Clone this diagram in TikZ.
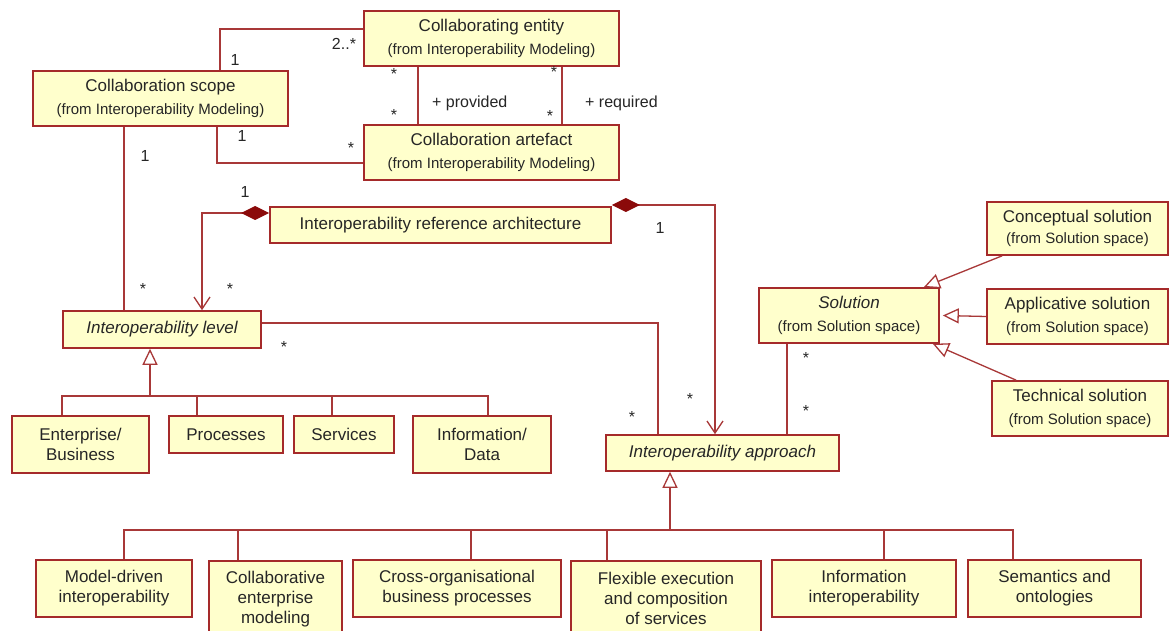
\documentclass[tikz,border=0pt]{standalone}
\usepackage{fontspec}
\setmainfont{Liberation Sans}
\usetikzlibrary{arrows.meta}
\definecolor{boxc}{HTML}{A52A2A}
\definecolor{boxfill}{HTML}{FFFFCC}
\definecolor{linec}{HTML}{A83838}
\definecolor{diamc}{HTML}{8B0A0A}
\definecolor{txt}{HTML}{262626}
\newcommand\mainf{\fontsize{17}{20}\selectfont}
\newcommand\subf{\fontsize{15}{18}\selectfont}
\newcommand\lblf{\fontsize{16}{18}\selectfont}
\begin{document}
\begin{tikzpicture}[x=1pt,y=-1pt,
 box/.style={draw=boxc, fill=boxfill, line width=1.6pt, inner sep=2pt, align=center, text=txt, font=\mainf},
 conn/.style={draw=linec, line width=1.3pt},
 gen/.style={conn, -{Triangle[open,length=16pt,width=15pt]}},
 comp/.style={conn, {Diamond[length=28pt,width=14pt,color=diamc]}-{Straight Barb[length=12pt,width=16pt]}},
 lbl/.style={text=txt, font=\lblf, inner sep=0pt}]
\useasboundingbox (0,0) rectangle (1171,631);
\clip (0,0) rectangle (1171,631);
\fill[white] (0,0) rectangle (1171,631);

% boxes
\node[box, minimum width=255pt, minimum height=55pt] (entity) at (491.5,38.5)
  {Collaborating entity\\[3pt]{\subf (from Interoperability Modeling)}};
\node[box, minimum width=255pt, minimum height=55pt] (artefact) at (491.5,152.5)
  {Collaboration artefact\\[3pt]{\subf (from Interoperability Modeling)}};
\node[box, minimum width=255pt, minimum height=55pt] (scope) at (160.5,98.5)
  {Collaboration scope\\[3pt]{\subf (from Interoperability Modeling)}};
\node[box, minimum width=341pt, minimum height=36pt] (ira) at (440.5,225)
  {Interoperability reference architecture};
\node[box, minimum width=198pt, minimum height=37pt] (level) at (162,329.5)
  {\itshape Interoperability level};
\node[box, minimum width=137pt, minimum height=57pt] (ent) at (80.5,444.5)
  {Enterprise/\\Business};
\node[box, minimum width=114pt, minimum height=37pt] (proc) at (226,434.5) {Processes};
\node[box, minimum width=100pt, minimum height=37pt] (serv) at (344,434.5) {Services};
\node[box, minimum width=138pt, minimum height=57pt] (info) at (482,444.5)
  {Information/\\Data};
\node[box, minimum width=233pt, minimum height=36pt] (appr) at (722.5,453)
  {\itshape Interoperability approach};
\node[box, minimum width=180pt, minimum height=55pt] (sol) at (849,315.5)
  {{\itshape Solution}\\[3pt]{\subf (from Solution space)}};
\node[box, minimum width=181pt, minimum height=53pt] (conc) at (1077.5,228.5)
  {Conceptual solution\\[1pt]{\subf (from Solution space)}};
\node[box, minimum width=181pt, minimum height=55pt] (appl) at (1077.5,316.5)
  {Applicative solution\\[3pt]{\subf (from Solution space)}};
\node[box, minimum width=176pt, minimum height=55pt] (tech) at (1080,408.5)
  {Technical solution\\[3pt]{\subf (from Solution space)}};

\node[box, minimum width=156pt, minimum height=57pt] (md) at (114,588.5)
  {Model-driven\\interoperability};
\node[box, minimum width=133pt, minimum height=76pt, anchor=north] (collab) at (275.5,560)
  {Collaborative\\enterprise\\modeling};
\node[box, minimum width=208pt, minimum height=57pt] (cross) at (457,588.5)
  {Cross-organisational\\business processes};
\node[box, minimum width=190pt, minimum height=76pt, anchor=north] (flex) at (666,560)
  {Flexible execution\\and composition\\of services};
\node[box, minimum width=184pt, minimum height=57pt] (infoi) at (864,588.5)
  {Information\\interoperability};
\node[box, minimum width=173pt, minimum height=57pt] (sem) at (1054.5,588.5)
  {Semantics and\\ontologies};

% bend coordinates
\coordinate (b1) at (220,29);
\coordinate (b2) at (217,163);
\coordinate (b3) at (124,0);
\coordinate (b4) at (418,0);
\coordinate (b5) at (562,0);
\coordinate (b6) at (202,213);
\coordinate (b7) at (715,205);
\coordinate (b8) at (658,323);
\coordinate (b9) at (787,0);
\coordinate (g1) at (150,396);
\coordinate (g2) at (670,530);

% associations
\draw[conn] (scope.north -| b1) |- (entity.west |- b1);
\draw[conn] (scope.south -| b2) |- (artefact.west |- b2);
\draw[conn] (scope.south -| b3) -- (level.north -| b3);
\draw[conn] (entity.south -| b4) -- (artefact.north -| b4);
\draw[conn] (entity.south -| b5) -- (artefact.north -| b5);
\draw[conn] (level.east |- b8) -| (appr.north -| b8);
\draw[conn] (sol.south -| b9) -- (appr.north -| b9);
\draw[comp] (ira.west |- b6) -| (level.north -| b6);
\draw[comp] (ira.east |- b7) -| (appr.north -| b7);

% generalizations
\draw[gen] (g1) -- (level.south -| g1);
\foreach \n/\xx in {ent/62, proc/197, serv/332, info/488}
  \draw[conn] (\n.north -| \xx,0) |- (g1);
\draw[gen] (g2) -- (appr.south -| g2);
\foreach \n/\xx in {md/124, collab/238, cross/471, flex/607, infoi/884, sem/1013}
  \draw[conn] (\n.north -| \xx,0) |- (g2);
\draw[gen] ([xshift=16pt]conc.south west) -- ([xshift=-16pt]sol.north east);
\draw[gen] (appl.west) -- ([xshift=3pt]sol.east);
\draw[gen] ([xshift=25pt]tech.north west) -- ([xshift=-7pt]sol.south east);

% multiplicities and roles
\node[lbl] (m1) at (235,60) {1};
\node[lbl] (m2) at (344,44) {2..*};
\node[lbl] (m3) at (242,136) {1};
\node[lbl] (m4) at (351,148) {*};
\node[lbl] (m5) at (145,156) {1};
\node[lbl] (m6) at (143,289) {*};
\node[lbl] (m7) at (394,74) {*};
\node[lbl] (m8) at (394,115) {*};
\node[lbl, anchor=west] (r1) at (432,103) {+ provided};
\node[lbl] (m9) at (554,72) {*};
\node[lbl] (m10) at (550,116) {*};
\node[lbl, anchor=west] (r2) at (585,103) {+ required};
\node[lbl] (m11) at (245,192) {1};
\node[lbl] (m12) at (230,289) {*};
\node[lbl] (m13) at (660,228) {1};
\node[lbl] (m14) at (690,399) {*};
\node[lbl] (m15) at (284,347) {*};
\node[lbl] (m16) at (632,417) {*};
\node[lbl] (m17) at (806,358) {*};
\node[lbl] (m18) at (806,411) {*};
\end{tikzpicture}
\end{document}
